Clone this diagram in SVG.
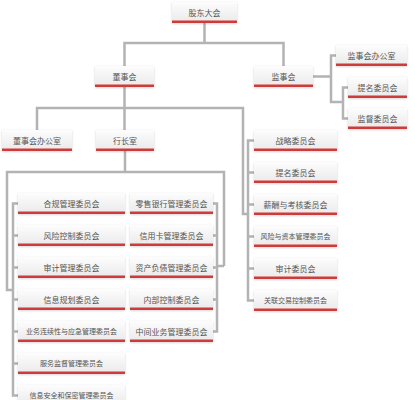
<svg xmlns="http://www.w3.org/2000/svg" width="415" height="400" viewBox="0 0 415 400">
<defs>
<linearGradient id="bg" x1="0" y1="0" x2="0" y2="1">
<stop offset="0" stop-color="#fdfdfd"/>
<stop offset="1" stop-color="#e9e9e9"/>
</linearGradient>
<filter id="sh" x="-10%" y="-20%" width="120%" height="150%">
<feDropShadow dx="0" dy="0.8" stdDeviation="0.8" flood-color="#000" flood-opacity="0.18"/>
</filter>
</defs>
<style>
.box{fill:url(#bg);filter:url(#sh)}
.red{fill:#cf3a3a}
text{font-family:"Noto Sans CJK SC","Noto Sans",sans-serif;font-size:8px;fill:#555;text-anchor:middle}
.s{font-size:7px}
.ln{fill:none;stroke:#b3b3b3;stroke-width:2.5}
</style>
<rect width="415" height="400" fill="#fff"/>
<g id="connectors" class="ln">
<path class="ln" d="M204.5 23V43M124.5 66V43H283.5V66"/>
<path class="ln" d="M313 76.5H331M336 55.5H331V102H343M348 87.5H343V118.5H348"/>
<path class="ln" d="M124.5 87V130M37 130V108H243V214H248M254 140.5H248V300.5H254M248 172.5H254M248 204.5H254M248 236.5H254M248 268.5H254"/>
<path class="ln" d="M125 151V172M224 266V172H7V290H13M18 203.5H13V395.5H18M13 235.5H18M13 267.5H18M13 299.5H18M13 331.5H18M13 363.5H18"/>
<path class="ln" d="M213 203.5H217V331.5H213M213 235.5H217M213 267.5H217M213 299.5H217M217 266H224"/>
</g>
<g id="n_gudong"><rect class="box" x="172" y="2" width="65" height="21"/><rect class="red" x="172" y="20.5" width="65" height="2.5"/><text x="204.5" y="15.5">股东大会</text></g>
<g id="n_dongshihui"><rect class="box" x="95" y="66" width="59" height="21"/><rect class="red" x="95" y="84.5" width="59" height="2.5"/><text x="124.5" y="79.5">董事会</text></g>
<g id="n_jianshihui"><rect class="box" x="254" y="66" width="59" height="21"/><rect class="red" x="254" y="84.5" width="59" height="2.5"/><text x="283.5" y="79.5">监事会</text></g>
<g id="n_jsh_office"><rect class="box" x="336" y="45" width="71" height="21"/><rect class="red" x="336" y="63.5" width="71" height="2.5"/><text x="371.5" y="58.5">监事会办公室</text></g>
<g id="n_jsh_timing"><rect class="box" x="348" y="77" width="59" height="21"/><rect class="red" x="348" y="95.5" width="59" height="2.5"/><text x="377.5" y="90.5">提名委员会</text></g>
<g id="n_jsh_jiandu"><rect class="box" x="348" y="108" width="59" height="21"/><rect class="red" x="348" y="126.5" width="59" height="2.5"/><text x="377.5" y="121.5">监督委员会</text></g>
<g id="n_dsh_office"><rect class="box" x="2" y="130" width="70" height="21"/><rect class="red" x="2" y="148.5" width="70" height="2.5"/><text x="37" y="143.5">董事会办公室</text></g>
<g id="n_hangzhang"><rect class="box" x="96" y="130" width="58" height="21"/><rect class="red" x="96" y="148.5" width="58" height="2.5"/><text x="125" y="143.5">行长室</text></g>
<g id="n_zhanlue"><rect class="box" x="254" y="130" width="83" height="21"/><rect class="red" x="254" y="148.5" width="83" height="2.5"/><text x="295.5" y="143.5">战略委员会</text></g>
<g id="n_timing"><rect class="box" x="254" y="162" width="83" height="21"/><rect class="red" x="254" y="180.5" width="83" height="2.5"/><text x="295.5" y="175.5">提名委员会</text></g>
<g id="n_xinchou"><rect class="box" x="254" y="194" width="83" height="21"/><rect class="red" x="254" y="212.5" width="83" height="2.5"/><text x="295.5" y="207.5">薪酬与考核委员会</text></g>
<g id="n_fengxianziben"><rect class="box" x="254" y="226" width="83" height="21"/><rect class="red" x="254" y="244.5" width="83" height="2.5"/><text class="s" x="295.5" y="239.2">风险与资本管理委员会</text></g>
<g id="n_shenji"><rect class="box" x="254" y="258" width="83" height="21"/><rect class="red" x="254" y="276.5" width="83" height="2.5"/><text x="295.5" y="271.5">审计委员会</text></g>
<g id="n_guanlian"><rect class="box" x="254" y="290" width="83" height="21"/><rect class="red" x="254" y="308.5" width="83" height="2.5"/><text class="s" x="295.5" y="303.2">关联交易控制委员会</text></g>
<g id="n_hegui"><rect class="box" x="18" y="193" width="107" height="21"/><rect class="red" x="18" y="211.5" width="107" height="2.5"/><text x="71.5" y="206.5">合规管理委员会</text></g>
<g id="n_fengxiankongzhi"><rect class="box" x="18" y="225" width="107" height="21"/><rect class="red" x="18" y="243.5" width="107" height="2.5"/><text x="71.5" y="238.5">风险控制委员会</text></g>
<g id="n_shenjiguanli"><rect class="box" x="18" y="257" width="107" height="21"/><rect class="red" x="18" y="275.5" width="107" height="2.5"/><text x="71.5" y="270.5">审计管理委员会</text></g>
<g id="n_xinxiguihua"><rect class="box" x="18" y="289" width="107" height="21"/><rect class="red" x="18" y="307.5" width="107" height="2.5"/><text x="71.5" y="302.5">信息规划委员会</text></g>
<g id="n_yewulianxu"><rect class="box" x="18" y="321" width="107" height="21"/><rect class="red" x="18" y="339.5" width="107" height="2.5"/><text class="s" x="71.5" y="334.2">业务连续性与应急管理委员会</text></g>
<g id="n_fuwujiandu"><rect class="box" x="18" y="353" width="107" height="21"/><rect class="red" x="18" y="371.5" width="107" height="2.5"/><text class="s" x="71.5" y="366.2">服务监督管理委员会</text></g>
<g id="n_xinxianquan"><rect class="box" x="18" y="385" width="107" height="21"/><rect class="red" x="18" y="403.5" width="107" height="2.5"/><text class="s" x="71.5" y="398.2">信息安全和保密管理委员会</text></g>
<g id="n_lingshou"><rect class="box" x="130" y="193" width="83" height="21"/><rect class="red" x="130" y="211.5" width="83" height="2.5"/><text x="171.5" y="206.5">零售银行管理委员会</text></g>
<g id="n_xinyongka"><rect class="box" x="130" y="225" width="83" height="21"/><rect class="red" x="130" y="243.5" width="83" height="2.5"/><text x="171.5" y="238.5">信用卡管理委员会</text></g>
<g id="n_zichanfuzhai"><rect class="box" x="130" y="257" width="83" height="21"/><rect class="red" x="130" y="275.5" width="83" height="2.5"/><text x="171.5" y="270.5">资产负债管理委员会</text></g>
<g id="n_neibukongzhi"><rect class="box" x="130" y="289" width="83" height="21"/><rect class="red" x="130" y="307.5" width="83" height="2.5"/><text x="171.5" y="302.5">内部控制委员会</text></g>
<g id="n_zhongjianyewu"><rect class="box" x="130" y="321" width="83" height="21"/><rect class="red" x="130" y="339.5" width="83" height="2.5"/><text x="171.5" y="334.5">中间业务管理委员会</text></g>
</svg>
